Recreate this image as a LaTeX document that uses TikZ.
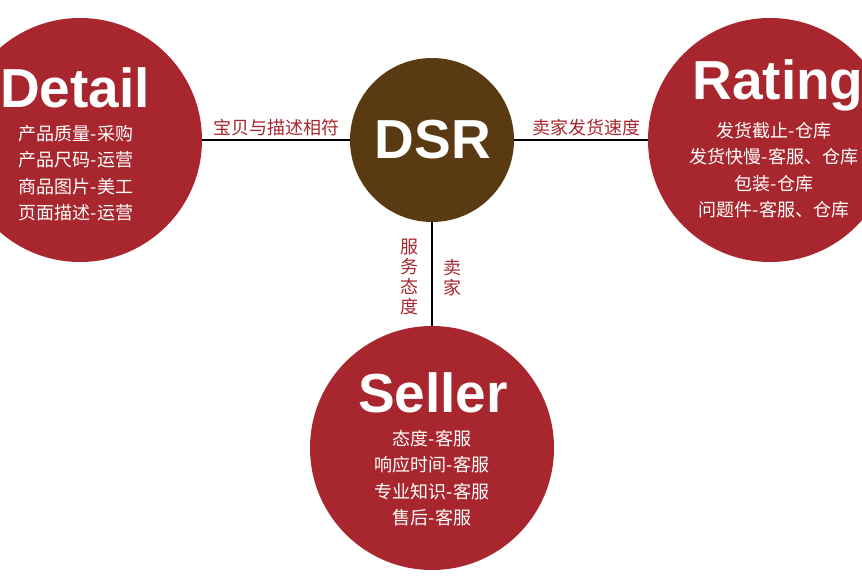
\documentclass[tikz,border=0pt]{standalone}
\usepackage{fontspec}
\setmainfont{Liberation Sans}
\newfontfamily\cjk{Noto Sans CJK SC}
\definecolor{dsrred}{HTML}{A8272E}
\definecolor{dsrbrown}{HTML}{5A3A12}
\tikzset{
  bigcircle/.style={circle,fill=dsrred,minimum size=244pt,inner sep=0pt},
  hubcircle/.style={circle,fill=dsrbrown,minimum size=164pt,inner sep=0pt},
  title/.style={text=white,font=\bfseries\fontsize{55}{55}\selectfont},
  items/.style={text=white,font=\cjk\fontsize{18}{26.5}\selectfont,align=center},
  linklabel/.style={text=dsrred,font=\cjk\fontsize{18}{20}\selectfont,align=center},
  link/.style={black,line width=2pt}
}
\begin{document}
\begin{tikzpicture}[x=1pt,y=-1pt]
    \useasboundingbox (0,0) rectangle (862,580);
    \clip (0,0) rectangle (862,580);
    \fill[white] (0,0) rectangle (862,580);
    %circles
    \node[bigcircle] (detail) at (80,140) {};
    \node[hubcircle] (dsr) at (432,140) {};
    \node[bigcircle] (rating) at (770,140) {};
    \node[bigcircle] (seller) at (432,448) {};
    %links
    \draw[link] (detail) -- (dsr);
    \draw[link] (dsr) -- (rating);
    \draw[link] (dsr) -- (seller);
    %link labels
    \node[linklabel] (lbldetail) at (276,128) {宝贝与描述相符};
    \node[linklabel] (lblrating) at (586,128) {卖家发货速度};
    \node[linklabel] (lblservice) at (409,277) {服\\务\\态\\度};
    \node[linklabel] (lblseller) at (452,278) {卖\\家};
    %texts
    \node[text=white,font=\bfseries\fontsize{55}{55}\selectfont] (dsrtitle) at (433,140) {DSR};
    \node[title] (detailtitle) at (75,88) {Detail};
    \node[items] (detailitems) at (76,173) {产品质量-采购\\产品尺码-运营\\商品图片-美工\\页面描述-运营};
    \node[title] (ratingtitle) at (778,85) {Rating};
    \node[items] (ratingitems) at (774,170) {发货截止-仓库\\发货快慢-客服、仓库\\包装-仓库\\问题件-客服、仓库};
    \node[title] (sellertitle) at (433,393) {Seller};
    \node[items] (sellernodes) at (432,478) {态度-客服\\响应时间-客服\\专业知识-客服\\售后-客服};
\end{tikzpicture}
\end{document}
